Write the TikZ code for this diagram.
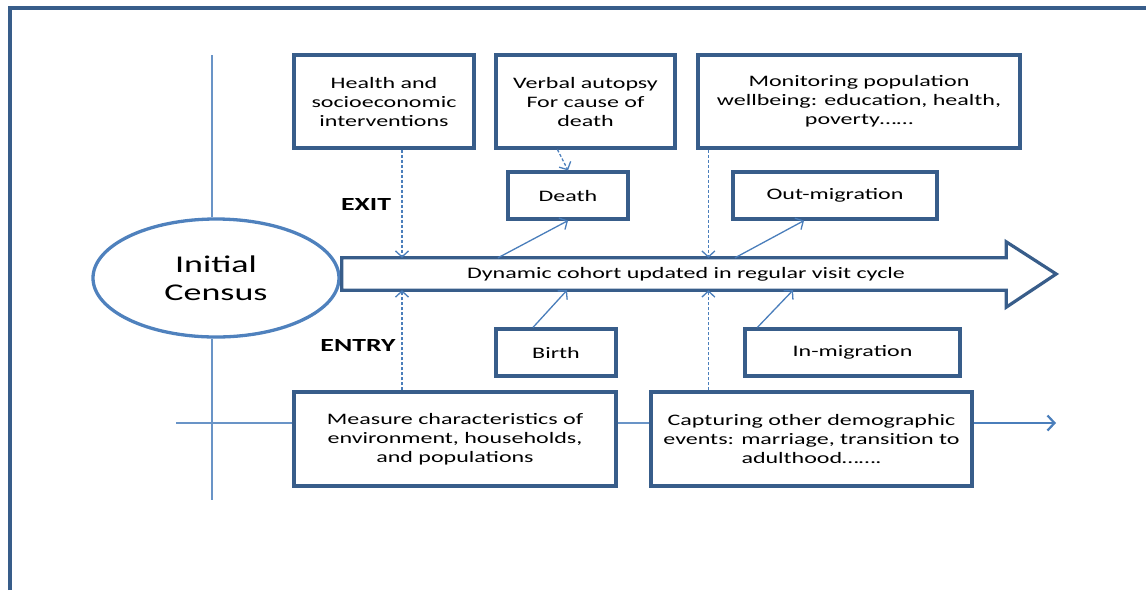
\documentclass[tikz,border=0pt]{standalone}
\usepackage{fontspec}
\setmainfont[FakeStretch=1.5]{Carlito}
\usepackage{xcolor}
\usepackage{tikz}
\usetikzlibrary{arrows.meta,calc,positioning,shapes.geometric}
\definecolor{boxblue}{RGB}{56,93,138}
\definecolor{lineblue}{RGB}{74,126,187}
\definecolor{ovalblue}{RGB}{79,129,189}

\begin{document}
\begin{tikzpicture}[x=1pt,y=-1pt,
  infobox/.style={draw=boxblue,line width=3.2pt,fill=white,align=center,inner sep=2pt,
    font=\fontsize{16}{19}\selectfont},
  dashlink/.style={lineblue,line width=1.3pt,dash pattern=on 3pt off 2pt,
    -{Straight Barb[length=6pt,width=13pt]}},
  solidlink/.style={lineblue,line width=1.3pt,-{Straight Barb[length=6pt,width=13pt]}},
  guide/.style={ovalblue!85,line width=1.6pt},
  sidelabel/.style={font=\fontsize{18.5}{22}\selectfont\bfseries}]
  \useasboundingbox (0,0) rectangle (1146,590);
  % frame round the slide
  \draw[boxblue,line width=4pt] (10,590) -- (10,8) -- (1146,8);

  % census and the time line
  \node[ellipse,draw=ovalblue,line width=3.3pt,minimum width=246pt,minimum height=118pt,
    inner sep=0pt,align=center,font=\fontsize{24}{28}\selectfont] (census) at (216,278) {Initial\\Census};
  \node[minimum width=664pt,minimum height=32pt,inner sep=0pt,font=\fontsize{16}{19}\selectfont]
    (cohort) at (674,274) {\hspace*{24pt}Dynamic cohort updated in regular visit cycle};
  \draw[boxblue,line width=3.2pt,line join=miter]
    (cohort.north west) -- (cohort.north east) -- ($(cohort.north east)+(0,-16)$)
    -- ($(cohort.east)+(50,0)$) -- ($(cohort.south east)+(0,17)$)
    -- (cohort.south east) -- (cohort.south west) -- cycle;

  % upper boxes
  \node[infobox,minimum width=180pt,minimum height=93pt] (health) at (384,101.5)
    {Health and\\socioeconomic\\interventions};
  \node[infobox,minimum width=179pt,minimum height=93pt] (verbal) at (585.5,101.5)
    {Verbal autopsy\\For cause of\\death};
  \node[infobox,minimum width=322pt,minimum height=93pt] (monitor) at (859,101.5)
    {Monitoring population\\wellbeing: education, health,\\poverty\dots\dots};
  \node[infobox,minimum width=120pt,minimum height=47pt] (death) at (568,195.5) {Death};
  \node[infobox,minimum width=204pt,minimum height=47pt] (outmig) at (835,195.5) {Out-migration};

  % lower boxes
  \node[infobox,minimum width=120pt,minimum height=47pt] (birth) at (556,352.5) {Birth};
  \node[infobox,minimum width=215pt,minimum height=47pt] (inmig) at (852.5,352.5) {In-migration};
  \node[infobox,minimum width=322pt,minimum height=94pt] (measure) at (455,439)
    {Measure characteristics of\\environment, households,\\and populations};
  \node[infobox,minimum width=321pt,minimum height=94pt] (capture) at (811.5,439)
    {Capturing other demographic\\events: marriage, transition to\\adulthood\dots\dots.};

  \node[sidelabel] (exitlbl) at (366,204) {EXIT};
  \node[sidelabel] (entrylbl) at (358,345) {ENTRY};

  % guide lines
  \coordinate (vtop) at (212,55);
  \coordinate (vbot) at (212,500);
  \coordinate (hl) at (176,423);
  \coordinate (fwd) at (1056,423);
  \draw[guide] (vtop) -- (vtop |- census.north);
  \draw[guide] (vbot |- census.south) -- (vbot);
  \draw[guide] (hl) -- (hl -| measure.west);
  \draw[guide] (measure.east |- hl) -- (capture.west |- hl);
  \draw[lineblue,line width=2.2pt,-{Straight Barb[length=7pt,width=15pt]}] (capture.east |- fwd) -- (fwd);

  % exits
  \draw[dashlink] ([xshift=18pt]health.south) -- ([xshift=18pt]health.south |- cohort.north);
  \draw[dashlink] ([xshift=12pt]monitor.south west) -- ([xshift=12pt]monitor.south west |- cohort.north);
  \draw[dashlink] ([xshift=-28pt]verbal.south) -- (death.north);
  \draw[solidlink] ([xshift=-176pt]cohort.north) -- (death.south);
  \draw[solidlink] ([xshift=61pt]cohort.north) -- ([xshift=-31pt]outmig.south);

  % entries
  \draw[dashlink] ([xshift=-53pt]measure.north) -- ([xshift=-53pt]measure.north |- cohort.south);
  \draw[dashlink] ([xshift=59pt]capture.north west) -- ([xshift=59pt]capture.north west |- cohort.south);
  \draw[solidlink] ([xshift=-23pt]birth.north) -- ([xshift=-107pt]cohort.south);
  \draw[solidlink] ([xshift=14pt]inmig.north west) -- ([xshift=119pt]cohort.south);
\end{tikzpicture}
\end{document}
